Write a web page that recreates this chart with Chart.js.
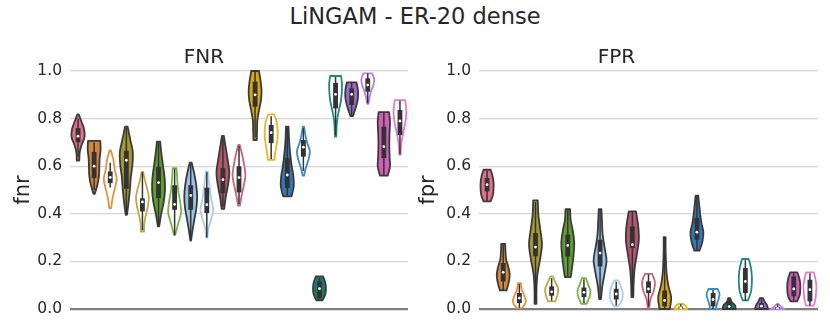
<!DOCTYPE html>
<html>
<head>
<meta charset="utf-8">
<script src="https://cdn.jsdelivr.net/npm/chart.js@4/dist/chart.umd.min.js"></script>
<style>
  body { margin: 0; background: #fff; width: 830px; height: 332px; position: relative; overflow: hidden; font-family: "DejaVu Sans", sans-serif; }
  #title { position: absolute; left: 0; top: 1px; width: 830px; text-align: center; font-size: 22.5px; line-height: 30px; color: #262626; }
  .panel { position: absolute; top: 0; width: 415px; height: 332px; }
</style>
</head>
<body>
<div id="title">LiNGAM - ER-20 dense</div>
<div class="panel" style="left:0"><canvas id="fnr"></canvas></div>
<div class="panel" style="left:415px"><canvas id="fpr"></canvas></div>
<script>
// 21 violins per panel
const yTicks = [0, 0.2, 0.4, 0.6, 0.8, 1.0];

const fnrLo  = [0.624, 0.484, 0.424, 0.396, 0.325, 0.347, 0.312, 0.287, 0.300, 0.421, 0.434, 0.710, 0.627, 0.473, 0.560, 0.036, 0.724, 0.811, 0.862, 0.560, 0.648];
const fnrHi  = [0.818, 0.706, 0.666, 0.766, 0.576, 0.703, 0.592, 0.615, 0.578, 0.727, 0.690, 1.000, 0.818, 0.766, 0.766, 0.137, 0.979, 0.952, 0.990, 0.827, 0.878];
const fnrQ1  = [0.700, 0.550, 0.529, 0.505, 0.410, 0.466, 0.417, 0.417, 0.403, 0.487, 0.490, 0.850, 0.697, 0.508, 0.640, 0.046, 0.843, 0.857, 0.913, 0.634, 0.731];
const fnrMed = [0.726, 0.600, 0.553, 0.625, 0.450, 0.531, 0.440, 0.477, 0.438, 0.543, 0.552, 0.900, 0.741, 0.563, 0.680, 0.085, 0.902, 0.902, 0.941, 0.682, 0.790];
const fnrQ3  = [0.760, 0.660, 0.578, 0.665, 0.465, 0.598, 0.520, 0.520, 0.510, 0.592, 0.600, 0.955, 0.773, 0.634, 0.710, 0.116, 0.950, 0.927, 0.969, 0.766, 0.836];
const fnrWhLo = [0.640, 0.500, 0.510, 0.400, 0.330, 0.350, 0.310, 0.290, 0.300, 0.430, 0.440, 0.720, 0.630, 0.475, 0.580, 0.040, 0.730, 0.815, 0.865, 0.560, 0.650];
const fnrWhHi = [0.800, 0.700, 0.615, 0.760, 0.575, 0.700, 0.590, 0.610, 0.575, 0.720, 0.685, 1.000, 0.810, 0.760, 0.760, 0.130, 0.975, 0.950, 0.990, 0.825, 0.875];
// relative half-widths from bottom to top of each violin
const fnrShape = [
  [0.2, 0.25, 0.55, 1.0, 0.95, 0.55, 0.1],
  [0.1, 0.5, 0.75, 0.8, 0.85, 1.0, 0.95],
  [0.15, 0.35, 0.7, 1.0, 0.7, 0.5, 0.1],
  [0.1, 0.35, 0.55, 0.7, 0.95, 1.0, 0.6, 0.2],
  [0.25, 0.3, 0.55, 0.85, 1.0, 0.75, 0.4, 0.1],
  [0.1, 0.4, 0.8, 1.0, 0.95, 0.7, 0.45, 0.25],
  [0.1, 0.55, 1.0, 0.85, 0.55, 0.4, 0.3],
  [0.05, 0.3, 0.6, 0.9, 1.0, 0.85, 0.55, 0.15],
  [0.1, 0.25, 0.7, 1.0, 0.7, 0.5, 0.3, 0.15],
  [0.2, 0.45, 0.8, 1.0, 0.75, 0.45, 0.15],
  [0.15, 0.4, 0.75, 1.0, 0.8, 0.5, 0.1],
  [0.25, 0.3, 0.35, 0.6, 0.9, 1.0, 0.85, 0.6],
  [0.5, 0.65, 0.85, 1.0, 1.0, 0.85, 0.45],
  [0.65, 1.0, 0.95, 0.7, 0.5, 0.35, 0.25, 0.2],
  [0.1, 0.4, 0.8, 1.0, 0.6, 0.3, 0.1],
  [0.45, 0.9, 1.0, 0.9, 0.55],
  [0.1, 0.15, 0.25, 0.5, 0.8, 0.95, 1.0, 0.85],
  [0.2, 0.55, 0.85, 1.0, 0.95, 0.75],
  [0.1, 0.25, 0.5, 0.85, 1.0, 0.7],
  [0.6, 0.95, 0.9, 0.85, 0.85, 0.9, 0.95, 0.8],
  [0.1, 0.2, 0.5, 0.85, 1.0, 0.8]
];

const fprLo  = [0.452, 0.078, 0.004, 0.022, 0.032, 0.134, 0.022, 0.042, 0.011, 0.050, 0.004, 0.000, 0.000, 0.245, 0.000, 0.000, 0.036, 0.000, 0.000, 0.032, 0.014];
const fprHi  = [0.585, 0.274, 0.109, 0.456, 0.137, 0.420, 0.130, 0.420, 0.120, 0.410, 0.148, 0.302, 0.021, 0.476, 0.084, 0.046, 0.210, 0.046, 0.021, 0.154, 0.154];
const fprQ1  = [0.494, 0.116, 0.025, 0.221, 0.056, 0.221, 0.050, 0.179, 0.040, 0.256, 0.067, 0.011, 0.002, 0.291, 0.011, 0.002, 0.067, 0.004, 0.001, 0.053, 0.032];
const fprMed = [0.522, 0.154, 0.046, 0.260, 0.072, 0.267, 0.070, 0.235, 0.063, 0.270, 0.084, 0.036, 0.005, 0.323, 0.040, 0.010, 0.116, 0.012, 0.003, 0.084, 0.081];
const fprQ3  = [0.550, 0.193, 0.067, 0.319, 0.095, 0.312, 0.090, 0.291, 0.085, 0.347, 0.116, 0.078, 0.010, 0.382, 0.067, 0.030, 0.172, 0.025, 0.008, 0.137, 0.123];
const fprWhLo = [0.455, 0.080, 0.005, 0.030, 0.035, 0.140, 0.025, 0.045, 0.015, 0.055, 0.010, 0.000, 0.000, 0.245, 0.000, 0.000, 0.035, 0.000, 0.000, 0.035, 0.015];
const fprWhHi = [0.580, 0.270, 0.105, 0.450, 0.130, 0.420, 0.125, 0.420, 0.115, 0.410, 0.145, 0.300, 0.020, 0.475, 0.080, 0.045, 0.205, 0.045, 0.020, 0.150, 0.150];
const fprShape = [
  [0.55, 0.9, 1.0, 1.0, 0.85, 0.55],
  [0.5, 0.85, 1.0, 0.8, 0.45, 0.35, 0.3],
  [0.45, 1.0, 0.75, 0.35, 0.25],
  [0.15, 0.15, 0.3, 0.7, 1.0, 0.75, 0.45, 0.35],
  [0.55, 0.9, 1.0, 0.6, 0.2],
  [0.45, 0.7, 0.9, 1.0, 0.8, 0.45, 0.35],
  [0.4, 0.85, 1.0, 0.65, 0.3],
  [0.15, 0.35, 0.7, 1.0, 0.7, 0.4, 0.3, 0.2],
  [0.35, 0.9, 1.0, 0.75, 0.3],
  [0.15, 0.2, 0.35, 0.7, 1.0, 0.9, 0.55],
  [0.1, 0.3, 0.8, 1.0, 0.55],
  [0.8, 1.0, 0.55, 0.3, 0.2, 0.15, 0.15],
  [1.0, 0.85, 0.4],
  [0.4, 0.85, 1.0, 0.7, 0.5, 0.35, 0.2],
  [0.45, 0.6, 0.85, 1.0, 0.7],
  [1.0, 0.9, 0.35, 0.15],
  [0.4, 0.85, 1.0, 1.0, 0.85, 0.5],
  [1.0, 0.85, 0.5, 0.25],
  [1.0, 0.5, 0.15],
  [0.5, 0.9, 1.0, 1.0, 0.85, 0.55],
  [0.6, 0.85, 0.95, 1.0, 0.85, 0.6]
];

const colors = ['#e1708a', '#d4873a', '#e3913f', '#a49a2e', '#bcab4c', '#5f9d31', '#79b546',
  '#9bc3e8', '#a9cdf0', '#b5566f', '#c9657e', '#d6a914', '#e6b722', '#3678b6', '#3c89c9',
  '#1d7a6d', '#1f8a7c', '#a466d4', '#b97fe6', '#d35dbb', '#e879d1'];

const isFilled = i => i === 0 || i % 2 === 1;

function curveThrough(ctx, pts) {
  for (let i = 0; i < pts.length - 1; i++) {
    const p0 = pts[i - 1] || pts[i], p1 = pts[i], p2 = pts[i + 1], p3 = pts[i + 2] || p2;
    ctx.bezierCurveTo(p1[0] + (p2[0] - p0[0]) / 6, p1[1] + (p2[1] - p0[1]) / 6,
                      p2[0] - (p3[0] - p1[0]) / 6, p2[1] - (p3[1] - p1[1]) / 6, p2[0], p2[1]);
  }
}

const violinPlugin = {
  id: 'violins',
  beforeDatasetsDraw(chart, args, o) {
    const {ctx} = chart;
    const xs = chart.scales.x, ys = chart.scales.y;
    o.lo.forEach((lo, i) => {
      const hi = o.hi[i], shape = o.shape[i];
      const cx = xs.getPixelForValue(i);
      const half = xs.getPixelForValue(i + 0.4) - cx;
      const n = shape.length;
      const right = shape.map((w, k) => [cx + w * half, ys.getPixelForValue(lo + (hi - lo) * k / (n - 1))]);
      const left = right.map(p => [2 * cx - p[0], p[1]]).reverse();
      ctx.save();
      ctx.beginPath();
      ctx.moveTo(right[0][0], right[0][1]);
      curveThrough(ctx, right);
      ctx.lineTo(left[0][0], left[0][1]);
      curveThrough(ctx, left);
      ctx.closePath();
      ctx.fillStyle = isFilled(i) ? colors[i] : '#ffffff';
      ctx.fill();
      ctx.lineWidth = 1.8;
      ctx.lineJoin = 'round';
      ctx.strokeStyle = isFilled(i) ? '#3a3a3a' : colors[i];
      ctx.stroke();
      // whisker
      ctx.beginPath();
      ctx.moveTo(cx, ys.getPixelForValue(o.whLo[i]));
      ctx.lineTo(cx, ys.getPixelForValue(o.whHi[i]));
      ctx.lineWidth = 1.5;
      ctx.strokeStyle = '#333333';
      ctx.stroke();
      // box
      const bw = half * 0.75;
      const yq3 = ys.getPixelForValue(o.q3[i]), yq1 = ys.getPixelForValue(o.q1[i]);
      ctx.fillStyle = '#333333';
      ctx.fillRect(cx - bw / 2, yq3, bw, Math.max(yq1 - yq3, 1.5));
      ctx.restore();
    });
  }
};

function makeChart(id, label, title, med, o, axisWidth, padRight, titlePad) {
  return new Chart(document.getElementById(id), {
    type: 'scatter',
    data: {
      datasets: [{
        data: med.map((m, i) => ({x: i, y: m})),
        pointRadius: 1.4,
        pointBackgroundColor: '#ffffff',
        pointBorderWidth: 0
      }]
    },
    options: {
      responsive: true,
      maintainAspectRatio: false,
      animation: false,
      layout: { padding: { left: 0, right: padRight, top: 30, bottom: 23 } },
      plugins: {
        legend: { display: false },
        tooltip: { enabled: false },
        title: {
          display: true, text: title, color: '#262626',
          font: { family: 'DejaVu Sans', size: 20, weight: 'normal' },
          padding: { top: 16, bottom: 1 }
        },
        violins: o
      },
      scales: {
        x: { type: 'linear', min: -0.5, max: 20.5, display: false },
        y: {
          min: 0, max: 1.0,
          afterBuildTicks: s => { s.ticks = yTicks.map(v => ({value: v})); },
          afterFit: s => { s.width = axisWidth; },
          border: { display: false },
          grid: {
            drawTicks: false,
            color: c => c.tick && c.tick.value === 0 ? '#7f7f7f' : '#d6d6d6',
            lineWidth: c => c.tick && c.tick.value === 0 ? 2.2 : 1.2
          },
          ticks: {
            padding: 8, color: '#262626',
            font: { family: 'DejaVu Sans', size: 15.5 },
            callback: v => v.toFixed(1)
          },
          title: {
            display: true, text: label, color: '#262626',
            font: { family: 'DejaVu Sans', size: 21 },
            padding: { top: titlePad, bottom: 0 }
          }
        }
      }
    },
    plugins: [violinPlugin]
  });
}

makeChart('fnr', 'fnr', 'FNR', fnrMed,
  { lo: fnrLo, hi: fnrHi, q1: fnrQ1, q3: fnrQ3, whLo: fnrWhLo, whHi: fnrWhHi, shape: fnrShape }, 70, 7, 11);
makeChart('fpr', 'fpr', 'FPR', fprMed,
  { lo: fprLo, hi: fprHi, q1: fprQ1, q3: fprQ3, whLo: fprWhLo, whHi: fprWhHi, shape: fprShape }, 64, 12, 1);
</script>
</body>
</html>
